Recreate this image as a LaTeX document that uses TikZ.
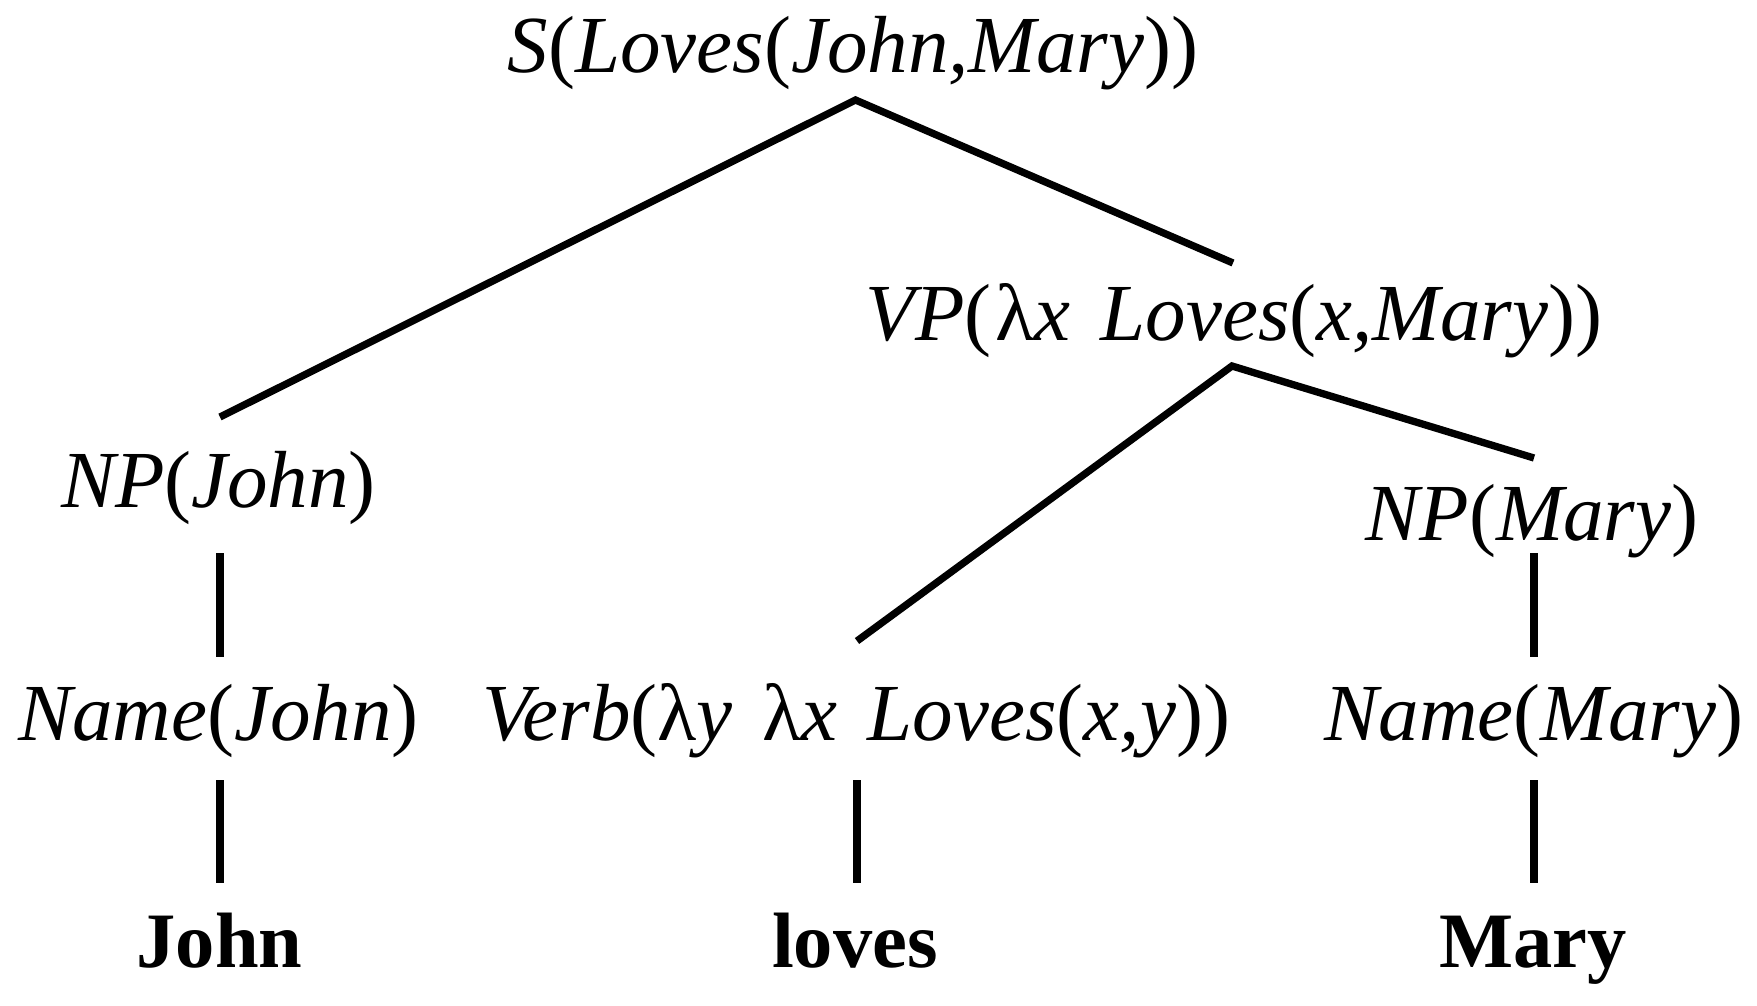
\documentclass[tikz,border=0pt]{standalone}
\usepackage{fontspec}
\setmainfont{Liberation Serif}
\newcommand{\lp}{\textup{(}}
\newcommand{\rp}{\textup{)}}
\newcommand{\lam}{\textup{λ}}
\newcommand{\gap}{\hspace{0.37em}}
\tikzset{
  lbl/.style={anchor=base, inner sep=0pt, font=\fontsize{81}{90}\selectfont\itshape},
  word/.style={anchor=base, inner sep=0pt, font=\fontsize{78.5}{90}\selectfont\bfseries},
  edge/.style={line width=7.3pt, line cap=butt, line join=miter}
}
\begin{document}
\begin{tikzpicture}[x=1pt,y=-1pt]
\useasboundingbox (0,0) rectangle (1757,1005);
% labels
\node[lbl] (s) at (853,72) {S\lp Loves\lp John,Mary\rp\rp};
\node[lbl] (vp) at (1234,340) {VP\lp\hspace{0.05em}\lam x\gap Loves\lp x,Mary\rp\rp};
\node[lbl] (npj) at (218.5,507) {NP\lp John\rp};
\node[lbl] (npm) at (1532,540) {NP\lp Mary\rp};
\node[lbl] (namej) at (218.5,740) {Name\lp John\rp};
\node[lbl] (verb) at (856,740) {Verb\lp\lam y\gap\lam x\gap Loves\lp x,y\rp\rp};
\node[lbl] (namem) at (1534,740) {Name\lp Mary\rp};
\node[word] (john) at (219.6,967) {John};
\node[word] (loves) at (855,967) {loves};
\node[word] (mary) at (1533,967) {Mary};
% connector end points
\coordinate (sA) at (855.5,100);
\coordinate (sL) at (220,417);
\coordinate (sR) at (1233,263);
\coordinate (vA) at (1232,366);
\coordinate (vL) at (857,641);
\coordinate (vR) at (1534,458);
\coordinate (npjB) at (220,553);
\coordinate (namejT) at (220,657);
\coordinate (npmB) at (1534,553);
\coordinate (namemT) at (1534,657);
\coordinate (namejB) at (220,780);
\coordinate (johnT) at (220,883);
\coordinate (verbB) at (857,780);
\coordinate (lovesT) at (857,883);
\coordinate (namemB) at (1534,780);
\coordinate (maryT) at (1534,883);
% connectors
\draw[edge] (sL) -- (sA) -- (sR);
\draw[edge] (vL) -- (vA) -- (vR);
\draw[edge] (npjB) -- (namejT);
\draw[edge] (npmB) -- (namemT);
\draw[edge] (namejB) -- (johnT);
\draw[edge] (verbB) -- (lovesT);
\draw[edge] (namemB) -- (maryT);
\end{tikzpicture}
\end{document}
